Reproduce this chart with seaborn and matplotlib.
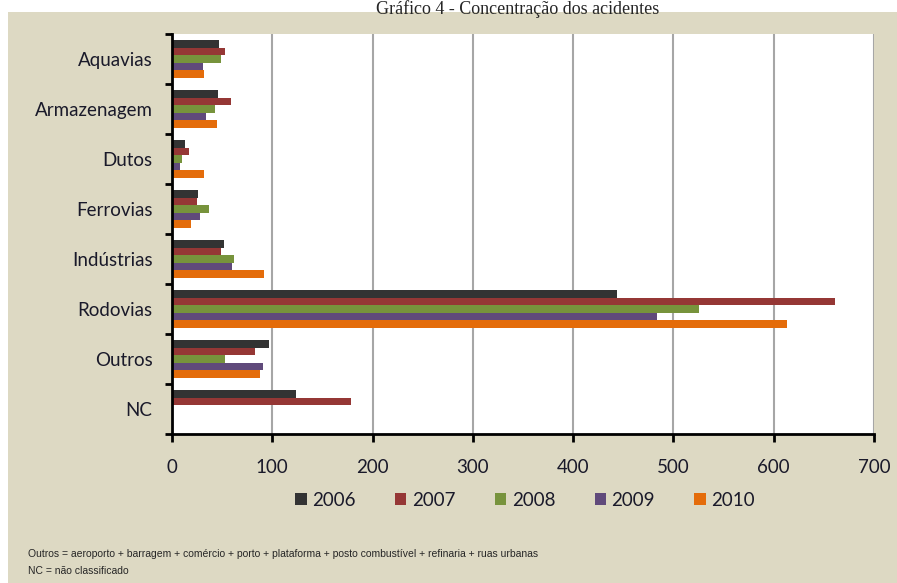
import numpy as np
import pandas as pd
import seaborn as sns
import matplotlib.pyplot as plt
from matplotlib.patches import Rectangle

sns.set_style("white")
plt.rcParams['font.family'] = ['Lato', 'DejaVu Sans']

# dados
categorias = ['Aquavias', 'Armazenagem', 'Dutos', 'Ferrovias', 'Indústrias',
              'Rodovias', 'Outros', 'NC']
anos = ['2006', '2007', '2008', '2009', '2010']
v2006 = [47, 46, 13, 26, 52, 444, 97, 124]
v2007 = [53, 59, 17, 25, 49, 661, 83, 178]
v2008 = [49, 43, 10, 37, 62, 525, 53, 0]
v2009 = [31, 34, 8, 28, 60, 484, 91, 0]
v2010 = [32, 45, 32, 19, 92, 613, 88, 0]
cores = ['#333333', '#953735', '#77933C', '#604A7B', '#E46C0A']

# tabela longa para o seaborn
linhas = []
for ano, vals in zip(anos, [v2006, v2007, v2008, v2009, v2010]):
    for cat, v in zip(categorias, vals):
        linhas.append({'categoria': cat, 'ano': ano, 'valor': v})
df = pd.DataFrame(linhas)

fig = plt.figure(figsize=(8.97, 5.83), dpi=100)
fig.patch.set_facecolor('white')
# painel bege de fundo
fig.patches.append(Rectangle((8 / 897, 0), 1 - 8 / 897, 1 - 12 / 583,
                             transform=fig.transFigure, facecolor='#DDD9C3',
                             edgecolor='none', zorder=-5))

ax = fig.add_axes([172 / 897, 1 - 434 / 583, 702 / 897, 400 / 583])
ax.set_zorder(1)
ax.set_facecolor('white')
sns.barplot(data=df, y='categoria', x='valor', hue='ano', orient='h',
            palette=cores, width=0.75, linewidth=0, saturation=1,
            order=categorias, hue_order=anos, ax=ax)

ax.set_xlim(0, 700)
ax.set_ylim(7.5, -0.5)
ax.set_xticks(np.arange(0, 701, 100))
ax.grid(axis='x', color='#A6A6A6', linewidth=1.5)
ax.set_axisbelow(True)
ax.set_xlabel('')
ax.set_ylabel('')

for s in ['top', 'right']:
    ax.spines[s].set_visible(False)
for s in ['left', 'bottom']:
    ax.spines[s].set_color('black')
    ax.spines[s].set_linewidth(2)

ax.set_yticks(np.arange(-0.5, 8, 1), minor=True)
ax.tick_params(axis='y', which='major', length=0, pad=14, labelsize=13.5,
               labelcolor='#1a1a2a')
ax.tick_params(axis='y', which='minor', left=True, length=5, width=2,
               color='black')
ax.tick_params(axis='x', which='major', bottom=True, length=6, width=2,
               color='black', pad=12, labelsize=13.5, labelcolor='#1a1a2a')

ax.get_legend().remove()
handles, labels = ax.get_legend_handles_labels()
fig.legend(handles, labels, loc='center', ncol=5, frameon=False,
           bbox_to_anchor=(525 / 897, 1 - 500 / 583), fontsize=13.5,
           handlelength=0.6, handleheight=0.6, handletextpad=0.3,
           columnspacing=2.1, labelcolor='#1a1a2a')

fig.text(518 / 897, 1 - 0.5 / 583, 'Gráfico 4 - Concentração dos acidentes',
         ha='center', va='top', fontsize=13,
         family=['Liberation Serif', 'DejaVu Serif'])

nota = ['Liberation Sans Narrow', 'Liberation Sans']
fig.text(28 / 897, 1 - 554 / 583,
         'Outros = aeroporto + barragem + comércio + porto + plataforma + '
         'posto combustível + refinaria + ruas urbanas',
         ha='left', va='center', fontsize=7.5, family=nota)
fig.text(28 / 897, 1 - 571 / 583, 'NC = não classificado',
         ha='left', va='center', fontsize=7.5, family=nota)

fig.savefig('out.png', dpi=100, facecolor=fig.get_facecolor())
